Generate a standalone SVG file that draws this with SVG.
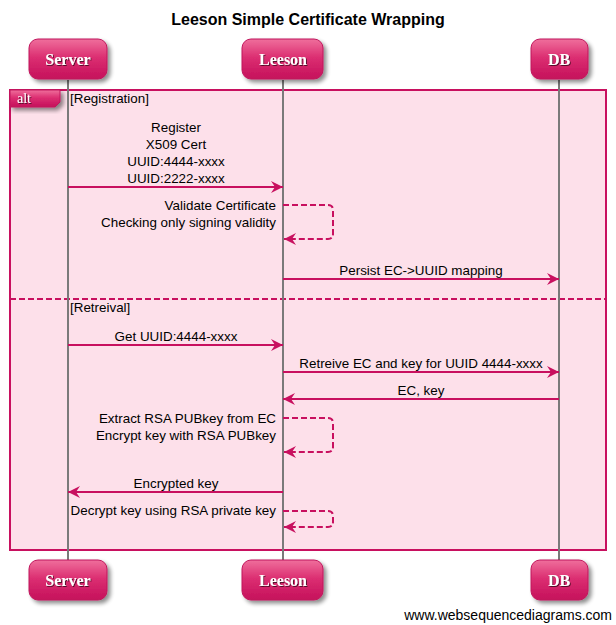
<svg xmlns="http://www.w3.org/2000/svg" width="616" height="625" viewBox="0 0 616 625">
<defs>
<linearGradient id="pg" x1="0" y1="0" x2="0" y2="1">
<stop offset="0" stop-color="#ef6f9c"/>
<stop offset="0.45" stop-color="#dc2f72"/>
<stop offset="1" stop-color="#c5105b"/>
</linearGradient>
<filter id="sh" x="-20%" y="-20%" width="150%" height="160%">
<feGaussianBlur in="SourceAlpha" stdDeviation="2"/>
<feOffset dx="3" dy="3" result="b"/>
<feComponentTransfer><feFuncA type="linear" slope="0.45"/></feComponentTransfer>
<feMerge><feMergeNode/><feMergeNode in="SourceGraphic"/></feMerge>
</filter>
<filter id="ts" x="-10%" y="-30%" width="130%" height="160%">
<feOffset in="SourceAlpha" dx="1" dy="1"/>
<feComponentTransfer><feFuncA type="linear" slope="0.6"/></feComponentTransfer>
<feMerge><feMergeNode/><feMergeNode in="SourceGraphic"/></feMerge>
</filter>
<marker id="ah" markerWidth="14" markerHeight="12" refX="12" refY="6" orient="auto" markerUnits="userSpaceOnUse">
<path d="M0,0 L12,6 L0,12 L4,6 Z" fill="#c8105f"/>
</marker>
</defs>
<style>
.t{font-family:"Liberation Sans",Arial,sans-serif;font-size:13.4px;fill:#000}
.pb{fill:url(#pg);stroke:#c0165c;stroke-width:1}
.pt{font-family:"Liberation Serif","Times New Roman",serif;font-size:16px;font-weight:bold;fill:#fff;text-anchor:middle}
.life{stroke:#7a7a7a;stroke-width:2}
.m{stroke:#c8105f;stroke-width:2;fill:none;marker-end:url(#ah)}
.d{stroke:#c8105f;stroke-width:2;fill:none;stroke-dasharray:6,3;marker-end:url(#ah)}
</style>
<rect width="616" height="625" fill="#fff"/>
<text x="308" y="25" text-anchor="middle" style="font-family:'Liberation Sans',Arial,sans-serif;font-size:16px;font-weight:bold">Leeson Simple Certificate Wrapping</text>

<g id="alt-frame">
<rect x="10" y="90" width="596" height="460" fill="#fde0ea" stroke="#c8105f" stroke-width="2"/>
<line x1="10" y1="299" x2="606" y2="299" stroke="#c8105f" stroke-width="2" stroke-dasharray="6,3"/>
<path d="M10,90 H60 V102 L55,107 H10 Z" fill="url(#pg)" stroke="#c0165c" filter="url(#sh)"/>
<text x="17" y="103" style="font-family:'Liberation Serif',serif;font-size:14px;fill:#fff" filter="url(#ts)">alt</text>
<text class="t" x="70" y="103">[Registration]</text>
<text class="t" x="70" y="312">[Retreival]</text>
</g>

<g id="lifelines">
<line class="life" x1="68" y1="80" x2="68" y2="560"/>
<line class="life" x1="283" y1="80" x2="283" y2="560"/>
<line class="life" x1="559" y1="80" x2="559" y2="560"/>
</g>

<g id="Server">
<rect class="pb" x="29" y="39" width="78" height="40" rx="9" filter="url(#sh)"/>
<text class="pt" x="68" y="65" filter="url(#ts)">Server</text>
<rect class="pb" x="29" y="560" width="78" height="40" rx="9" filter="url(#sh)"/>
<text class="pt" x="68" y="586" filter="url(#ts)">Server</text>
</g>
<g id="Leeson">
<rect class="pb" x="242" y="39" width="81" height="40" rx="9" filter="url(#sh)"/>
<text class="pt" x="283" y="65" filter="url(#ts)">Leeson</text>
<rect class="pb" x="242" y="560" width="81" height="40" rx="9" filter="url(#sh)"/>
<text class="pt" x="283" y="586" filter="url(#ts)">Leeson</text>
</g>
<g id="DB">
<rect class="pb" x="531" y="39" width="57" height="40" rx="9" filter="url(#sh)"/>
<text class="pt" x="559" y="65" filter="url(#ts)">DB</text>
<rect class="pb" x="531" y="560" width="57" height="40" rx="9" filter="url(#sh)"/>
<text class="pt" x="559" y="586" filter="url(#ts)">DB</text>
</g>

<g id="connectors">
<line class="m" x1="68" y1="187" x2="283" y2="187"/>
<path class="d" d="M283,205 H328 Q333,205 333,210 V234 Q333,239 328,239 H284"/>
<line class="m" x1="283" y1="279" x2="559" y2="279"/>
<line class="m" x1="68" y1="345" x2="283" y2="345"/>
<line class="m" x1="283" y1="372" x2="559" y2="372"/>
<line class="m" x1="559" y1="399" x2="283" y2="399"/>
<path class="d" d="M283,418 H328 Q333,418 333,423 V447 Q333,452 328,452 H284"/>
<line class="m" x1="283" y1="492" x2="68" y2="492"/>
<path class="d" d="M283,511 H328 Q333,511 333,516 V522 Q333,527 328,527 H284"/>
</g>

<g id="labels">
<text class="t" x="176" y="132" text-anchor="middle">Register</text>
<text class="t" x="176" y="149" text-anchor="middle">X509 Cert</text>
<text class="t" x="176" y="166" text-anchor="middle">UUID:4444-xxxx</text>
<text class="t" x="176" y="183" text-anchor="middle">UUID:2222-xxxx</text>
<text class="t" x="276" y="210" text-anchor="end">Validate Certificate</text>
<text class="t" x="276" y="227" text-anchor="end">Checking only signing validity</text>
<text class="t" x="421" y="275" text-anchor="middle">Persist EC-&gt;UUID mapping</text>
<text class="t" x="176" y="341" text-anchor="middle">Get UUID:4444-xxxx</text>
<text class="t" x="421" y="368" text-anchor="middle">Retreive EC and key for UUID 4444-xxxx</text>
<text class="t" x="421" y="395" text-anchor="middle">EC, key</text>
<text class="t" x="276" y="423" text-anchor="end">Extract RSA PUBkey from EC</text>
<text class="t" x="276" y="440" text-anchor="end">Encrypt key with RSA PUBkey</text>
<text class="t" x="176" y="488" text-anchor="middle">Encrypted key</text>
<text class="t" x="276" y="515" text-anchor="end">Decrypt key using RSA private key</text>
</g>
<text class="t" x="612" y="620" text-anchor="end" style="font-size:14px">www.websequencediagrams.com</text>
</svg>
